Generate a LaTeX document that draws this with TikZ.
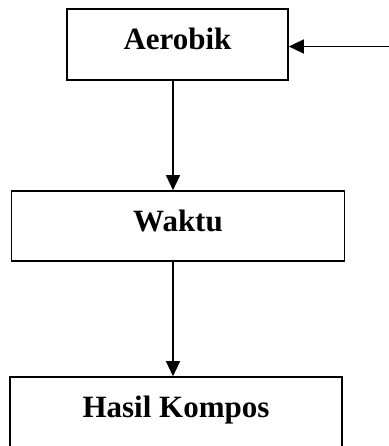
\documentclass[tikz,border=0pt]{standalone}
\usepackage{fontspec}
\setmainfont{Liberation Serif}
\usetikzlibrary{arrows.meta}

\tikzset{
  stepbox/.style={draw, line width=1.6pt, inner sep=0pt,
    font=\fontsize{31}{36}\selectfont\bfseries,
    text height=21pt, text depth=11pt},
  flow/.style={line width=1.3pt, -{Triangle[length=15pt,width=14pt]}}
}

\begin{document}
\begin{tikzpicture}[x=1pt,y=-1pt]
        \useasboundingbox (0,0) rectangle (388,446);
        \node[stepbox, minimum width=221pt, minimum height=71pt] (aerobik) at (177.5,44.5) {Aerobik};
        \node[stepbox, minimum width=333pt, minimum height=70pt] (waktu) at (178,226) {Waktu};
        \node[stepbox, minimum width=332pt, minimum height=70pt] (hasil) at (176,412) {Hasil Kompos};
        \coordinate (stem) at (173,0);
        \coordinate (input) at (390,46.5);
        \draw[flow] (aerobik.south -| stem) -- (waktu.north -| stem);
        \draw[flow] (waktu.south -| stem) -- (hasil.north -| stem);
        \draw[flow] (input) -- (aerobik.east |- input);
      \end{tikzpicture}
\end{document}
